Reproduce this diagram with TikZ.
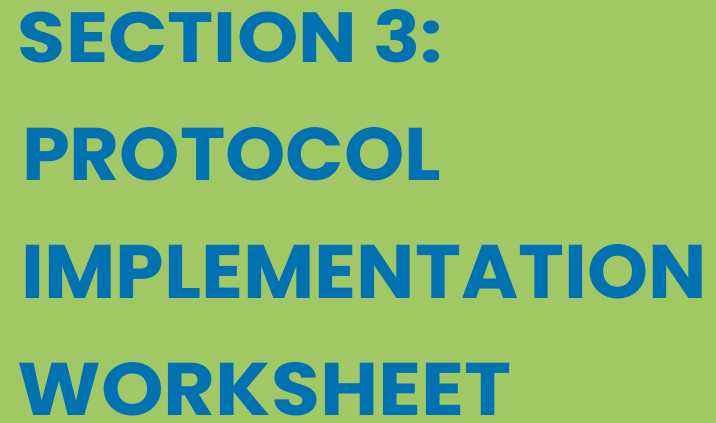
\documentclass[tikz,border=0pt]{standalone}
\usepackage{fontspec}
\setmainfont{Poppins}
\usepackage{graphicx}
\usetikzlibrary{positioning}
\definecolor{sheetgreen}{RGB}{161,200,101}
\definecolor{sheetblue}{RGB}{0,114,178}
\tikzset{titleline/.style={draw=none,color=sheetblue,inner sep=0pt,outer sep=0pt,anchor=base west,font=\bfseries}}

\begin{document}
\begin{tikzpicture}[x=1pt,y=1pt]
        \fill[sheetgreen] (0,0) rectangle (716,423);
        \useasboundingbox (0,0) rectangle (716,423);
        \node[titleline] (section) at (18,360) {\resizebox{425pt}{53pt}{SECTION 3:}};
        \node[titleline] (protocol) at (22,242) {\resizebox{419pt}{53pt}{PROTOCOL}};
        \node[titleline] (implementation) at (21.5,124) {\resizebox{685pt}{54pt}{IMPLEMENTATION}};
        \node[titleline] (worksheet) at (17.5,7) {\resizebox{494pt}{53pt}{WORKSHEET}};
    \end{tikzpicture}
\end{document}
